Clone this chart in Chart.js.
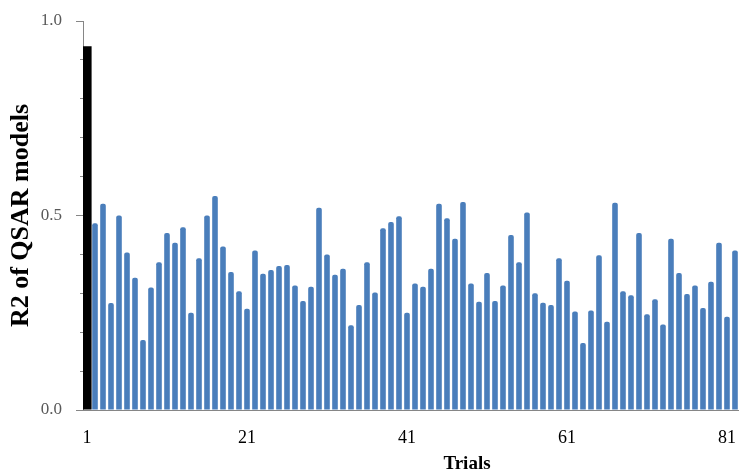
<!DOCTYPE html>
<html>
<head>
<meta charset="utf-8">
<script src="https://cdn.jsdelivr.net/npm/chart.js@4/dist/chart.umd.min.js"></script>
<style>
  html, body { margin: 0; padding: 0; background: #ffffff; overflow: hidden; }
  #wrap { position: relative; width: 864px; height: 472px; }
</style>
</head>
<body>
<div id="wrap"><canvas id="c"></canvas></div>
<script>
// Trial numbers (x categories). The original axis continues past the visible right edge.
const trialLabels = ['1','2','3','4','5','6','7','8','9','10','11','12','13','14','15','16','17','18','19','20',
  '21','22','23','24','25','26','27','28','29','30','31','32','33','34','35','36','37','38','39','40',
  '41','42','43','44','45','46','47','48','49','50','51','52','53','54','55','56','57','58','59','60',
  '61','62','63','64','65','66','67','68','69','70','71','72','73','74','75','76','77','78','79','80',
  '81','82','83','84','85','86','87','88','89','90','91','92','93','94','95','96'];

// Tick labels shown on the axes
const xTickLabels = ['1','21','41','61','81'];
const yTickLabels = ['0.0','0.5','1.0'];

// Trial 1 (black bar)
const bestR2 = [0.935];

// Trials 2..82 (blue bars)
const trialR2 = [0.48, 0.53, 0.275, 0.50, 0.405, 0.34, 0.18, 0.315, 0.38,
  0.455, 0.43, 0.47, 0.25, 0.39, 0.50, 0.55, 0.42, 0.355, 0.305,
  0.26, 0.41, 0.35, 0.36, 0.37, 0.373, 0.32, 0.28, 0.317, 0.52,
  0.40, 0.348, 0.363, 0.218, 0.27, 0.38, 0.302, 0.467, 0.483, 0.498,
  0.25, 0.325, 0.317, 0.363, 0.53, 0.493, 0.44, 0.535, 0.325, 0.278,
  0.352, 0.28, 0.32, 0.45, 0.38, 0.508, 0.30, 0.276, 0.27, 0.39,
  0.332, 0.253, 0.172, 0.256, 0.398, 0.227, 0.533, 0.305, 0.295, 0.455,
  0.246, 0.285, 0.22, 0.44, 0.352, 0.298, 0.32, 0.262, 0.33, 0.43,
  0.24, 0.41];

const blackData = bestR2.concat(trialR2.map(() => null));
const blueData = [null].concat(trialR2);

const SERIF = '"Liberation Serif", "Times New Roman", serif';

new Chart(document.getElementById('c'), {
  type: 'bar',
  data: {
    labels: trialLabels,
    datasets: [
      {
        label: 'Best',
        data: blackData,
        backgroundColor: '#000000',
        barPercentage: 1.15,
        categoryPercentage: 1,
        grouped: false
      },
      {
        label: 'Trials',
        data: blueData,
        backgroundColor: '#4a7ebb',
        barPercentage: 0.7,
        categoryPercentage: 1,
        grouped: false,
        borderRadius: 2,
        borderSkipped: 'start'
      }
    ]
  },
  options: {
    responsive: true,
    maintainAspectRatio: false,
    animation: false,
    events: [],
    layout: { padding: { top: 21, left: 0, right: 3, bottom: 0 } },
    plugins: {
      legend: { display: false },
      tooltip: { enabled: false },
      title: { display: false }
    },
    scales: {
      x: {
        type: 'category',
        offset: true,
        grid: { display: false, drawTicks: false },
        border: { display: true, color: '#868686', width: 1 },
        ticks: {
          autoSkip: false,
          maxRotation: 0,
          minRotation: 0,
          padding: 17,
          color: '#000000',
          font: { family: SERIF, size: 18 },
          callback: function (val, idx) {
            const l = this.getLabelForValue(val);
            return xTickLabels.includes(l) ? l : '';
          }
        },
        title: {
          display: true,
          text: 'Trials',
          color: '#000000',
          font: { family: SERIF, size: 19, weight: 'bold' },
          padding: { top: 0, bottom: -3 }
        },
        afterFit: (s) => { s.height = 62; }
      },
      y: {
        min: 0,
        max: 1,
        grid: {
          display: true,
          drawOnChartArea: false,
          drawTicks: true,
          tickLength: 21,
          tickWidth: 1,
          tickColor: '#868686',
          tickBorderDash: (ctx) => {
            const v = ctx.tick ? ctx.tick.value : 0;
            return yTickLabels.includes(Number(v).toFixed(1)) ? [0, 14, 7, 60] : [0, 18, 3, 60];
          }
        },
        border: { display: true, color: '#868686', width: 1 },
        ticks: {
          stepSize: 0.1,
          padding: 0,
          color: '#595959',
          font: { family: SERIF, size: 17 },
          callback: (v) => {
            const s = Number(v).toFixed(1);
            return yTickLabels.includes(s) ? s : '';
          }
        },
        title: {
          display: true,
          text: 'R2 of QSAR models',
          color: '#000000',
          font: { family: SERIF, size: 26, weight: 'bold' },
          padding: { top: 6, bottom: 0 }
        },
        afterFit: (s) => { s.width = 83; }
      }
    }
  }
});
</script>
</body>
</html>
